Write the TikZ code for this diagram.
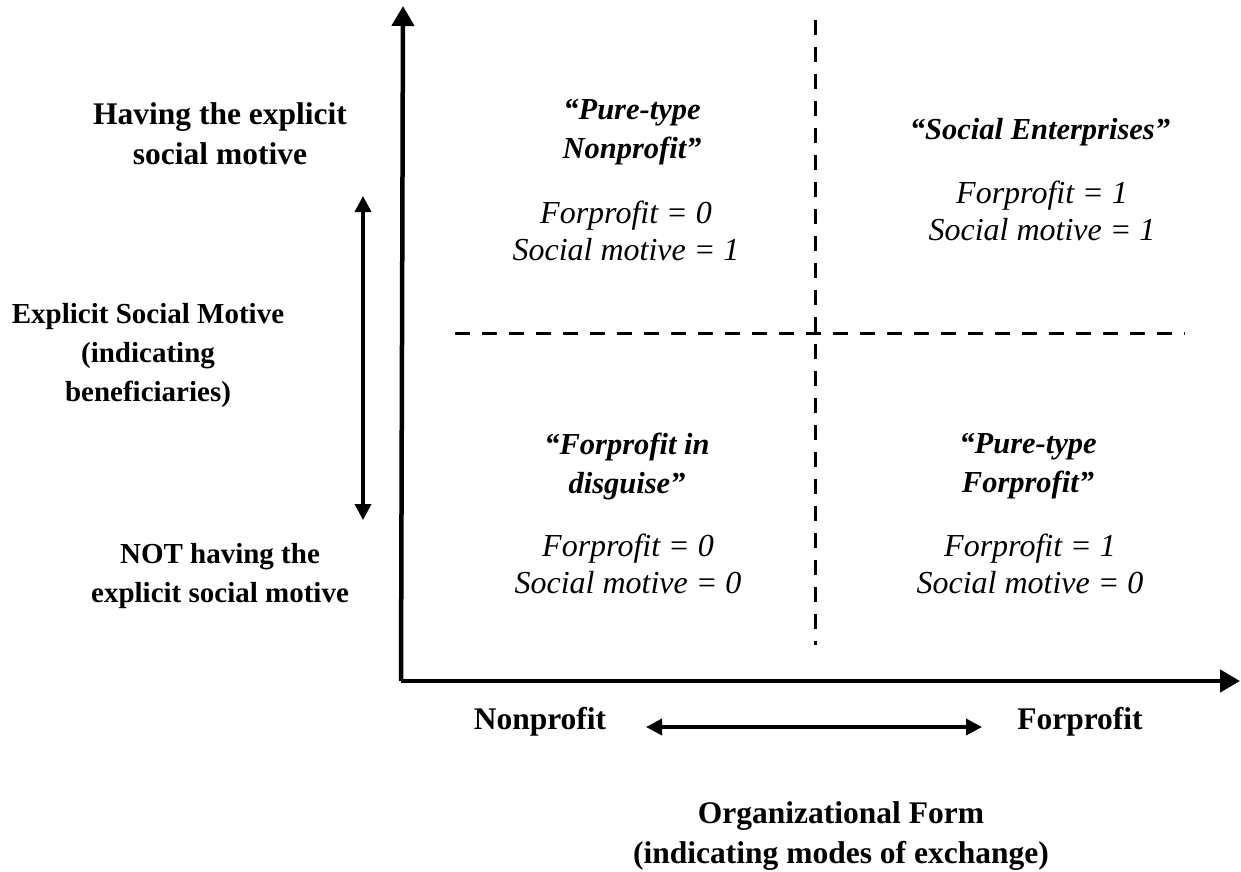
\documentclass[tikz,border=0pt]{standalone}
\usepackage{fontspec}
\setmainfont{Liberation Serif}
\usetikzlibrary{arrows.meta}
\begin{document}
\begin{tikzpicture}[x=1pt,y=-1pt,
  lbl/.style={font=\fontsize{31.5}{40}\selectfont\bfseries, align=center, inner sep=0pt},
  lbls/.style={font=\fontsize{29}{39}\selectfont\bfseries, align=center, inner sep=0pt},
  qtitle/.style={font=\fontsize{30.5}{39}\selectfont\bfseries\itshape, align=center, inner sep=0pt},
  qbody/.style={font=\fontsize{32}{37}\selectfont\itshape, align=center, inner sep=0pt},
  axis/.style={line width=4.5pt, -{Triangle[length=20pt,width=22pt]}},
  dbl/.style={line width=3.5pt, {Triangle[length=16pt,width=16pt]}-{Triangle[length=16pt,width=16pt]}},
  dashline/.style={line width=3pt, dash pattern=on 15pt off 12pt}
]
\useasboundingbox (0,0) rectangle (1241,871);
\coordinate (O) at (403,681);
\coordinate (ytop) at (403,6);
\coordinate (xend) at (1240,681);
\draw[axis] (401,681) -- (ytop);
\draw[axis] (401,681) -- (xend);
\coordinate (vd1) at (815,20);
\coordinate (vd2) at (815,645);
\coordinate (hd1) at (455,333);
\coordinate (hd2) at (1185,333);
\draw[dashline] (vd1) -- (vd2);
\draw[dashline] (hd1) -- (hd2);
\coordinate (la1) at (363,520);
\coordinate (la2) at (363,196);
\draw[dbl] (la1) -- (la2);
\coordinate (ba1) at (646,727);
\coordinate (ba2) at (982,727);
\draw[dbl] (ba1) -- (ba2);

\node[lbl] (hv) at (220,134) {Having the explicit\\social motive};
\node[lbls] (esm) at (148,356) {Explicit Social Motive\\(indicating\\beneficiaries)};
\node[lbls] (nh) at (220,576) {NOT having the\\explicit social motive};
\node[lbl] (np) at (540,722) {Nonprofit};
\node[lbl] (fp) at (1080,722) {Forprofit};
\node[lbl] (of) at (841,836) {Organizational Form\\(indicating modes of exchange)};

\node[qtitle] (tlt) at (632,132) {“Pure-type\\Nonprofit”};
\node[qbody] (tlb) at (626,231) {Forprofit = 0\\Social motive = 1};
\node[qtitle] (trt) at (1040,132) {“Social Enterprises”};
\node[qbody] (trb) at (1042,211) {Forprofit = 1\\Social motive = 1};
\node[qtitle] (blt) at (627,466) {“Forprofit in\\disguise”};
\node[qbody] (blb) at (628,564) {Forprofit = 0\\Social motive = 0};
\node[qtitle] (brt) at (1028,466) {“Pure-type\\Forprofit”};
\node[qbody] (brb) at (1030,564) {Forprofit = 1\\Social motive = 0};
\end{tikzpicture}
\end{document}
